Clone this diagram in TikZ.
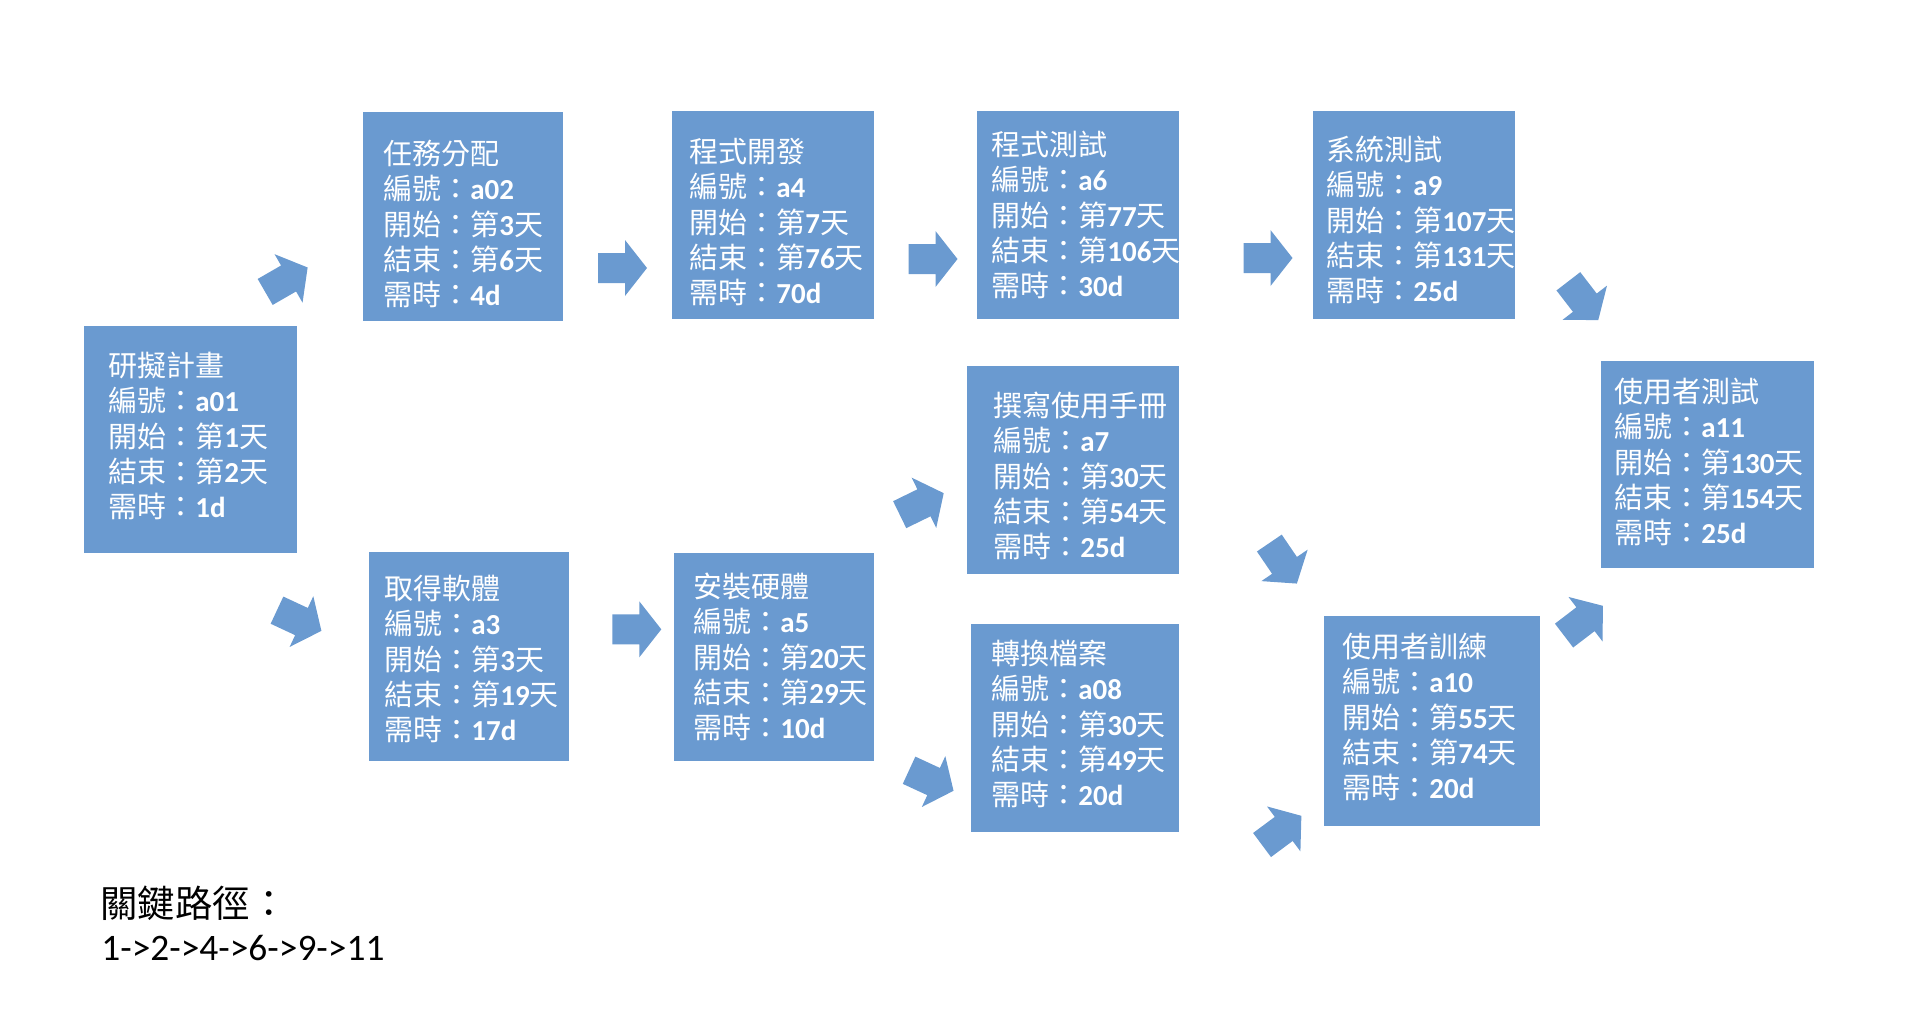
\documentclass[tikz,border=0pt]{standalone}
\usepackage{fontspec}
\setmainfont{Carlito}
\newfontfamily\cjkraw{Noto Sans CJK TC}
\newcommand{\cjk}{\cjkraw\mdseries}
\definecolor{boxblue}{RGB}{106,154,208}
\newcommand{\card}[5]{{\cjk #1}\\{\cjk 編號：}#2\\{\cjk 開始：第}#3{\cjk 天}\\{\cjk 結束：第}#4{\cjk 天}\\{\cjk 需時：}#5}
\tikzset{
  box/.style={fill=boxblue, draw=none, inner sep=0pt, anchor=north west},
  txt/.style={text=white, inner sep=0pt, anchor=west, align=left,
    font=\fontsize{14.5}{17.65}\selectfont\bfseries},
  barrow/.pic={\fill[boxblue] (-24.5,-15) -- (2.5,-15) -- (2.5,-28) -- (24.5,0)
     -- (2.5,28) -- (2.5,15) -- (-24.5,15) -- cycle;}
}
\begin{document}
\begin{tikzpicture}[x=0.5pt,y=-0.5pt]
\useasboundingbox (0,0) rectangle (1906,1008);
% boxes
\node[box, minimum width={213*0.5pt}, minimum height={227*0.5pt}] (b1) at (84,326) {};
\node[box, minimum width={200*0.5pt}, minimum height={209*0.5pt}] (b2) at (363,112) {};
\node[box, minimum width={202*0.5pt}, minimum height={208*0.5pt}] (b3) at (672,111) {};
\node[box, minimum width={202*0.5pt}, minimum height={208*0.5pt}] (b4) at (977,111) {};
\node[box, minimum width={202*0.5pt}, minimum height={208*0.5pt}] (b5) at (1313,111) {};
\node[box, minimum width={213*0.5pt}, minimum height={207*0.5pt}] (b6) at (1601,361) {};
\node[box, minimum width={200*0.5pt}, minimum height={209*0.5pt}] (b7) at (369,552) {};
\node[box, minimum width={200*0.5pt}, minimum height={208*0.5pt}] (b8) at (674,553) {};
\node[box, minimum width={212*0.5pt}, minimum height={208*0.5pt}] (b9) at (967,366) {};
\node[box, minimum width={208*0.5pt}, minimum height={208*0.5pt}] (b10) at (971,624) {};
\node[box, minimum width={216*0.5pt}, minimum height={210*0.5pt}] (b11) at (1324,616) {};
% texts
\node[txt] (t1) at (108,436) {\card{研擬計畫}{a01}{1}{2}{1d}};
\node[txt] (t2) at (383,224) {\card{任務分配}{a02}{3}{6}{4d}};
\node[txt] (t3) at (689,222) {\card{程式開發}{a4}{7}{76}{70d}};
\node[txt] (t4) at (991,215) {\card{程式測試}{a6}{77}{106}{30d}};
\node[txt] (t5) at (1326,220) {\card{系統測試}{a9}{107}{131}{25d}};
\node[txt] (t6) at (1614,462) {\card{使用者測試}{a11}{130}{154}{25d}};
\node[txt] (t7) at (384,659) {\card{取得軟體}{a3}{3}{19}{17d}};
\node[txt] (t8) at (693,657) {\card{安裝硬體}{a5}{20}{29}{10d}};
\node[txt] (t9) at (993,476) {\card{撰寫使用手冊}{a7}{30}{54}{25d}};
\node[txt] (t10) at (991,724) {\card{轉換檔案}{a08}{30}{49}{20d}};
\node[txt] (t11) at (1342,717) {\card{使用者訓練}{a10}{55}{74}{20d}};
% block arrows
\pic[rotate=30] (aA) at (286.4,279.7) {barrow};
\pic (aB) at (622.5,268) {barrow};
\pic (aC) at (933,259) {barrow};
\pic (aD) at (1268,258) {barrow};
\pic[rotate=-52.4] (aE) at (1583.3,300.7) {barrow};
\pic[rotate=-25] (aF) at (299.2,620.5) {barrow};
\pic (aG) at (636.8,629.3) {barrow};
\pic[rotate=26] (aH) at (921.7,503.9) {barrow};
\pic[rotate=-24.8] (aI) at (931.3,780.5) {barrow};
\pic[rotate=-55.8] (aJ) at (1283.1,563.3) {barrow};
\pic[rotate=36.6] (aK) at (1281.7,830.4) {barrow};
\pic[rotate=37.4] (aL) at (1583.5,620.7) {barrow};
% critical path
\node[anchor=west, inner sep=0pt, font=\fontsize{18.7}{22}\selectfont\cjk] (cp1) at (100,903) {關鍵路徑：};
\node[anchor=west, inner sep=0pt, font=\fontsize{18.7}{22}\selectfont] (cp2) at (101,948) {1->2->4->6->9->11};
\end{tikzpicture}
\end{document}
